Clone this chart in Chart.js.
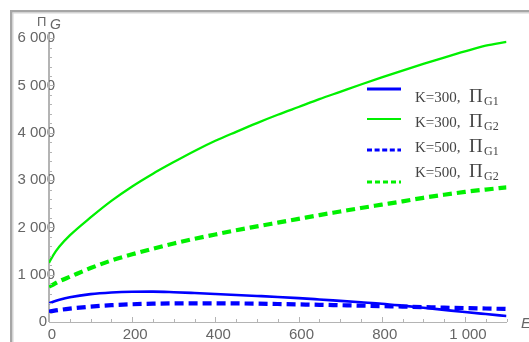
<!DOCTYPE html>
<html>
<head>
<meta charset="utf-8">
<script src="https://cdn.jsdelivr.net/npm/chart.js@4/dist/chart.umd.min.js"></script>
<style>
  html, body { margin: 0; padding: 0; background: #ffffff; overflow: hidden; }
  #wrap { width: 529px; height: 342px; position: relative; }
</style>
</head>
<body>
<div id="wrap"><canvas id="chart" width="529" height="342"></canvas></div>
<script>
// Profit of the two parties (Π_G1, Π_G2) against E, for K = 300 and K = 500
const energy = [0, 10, 25, 50, 100, 150, 200, 250, 300, 350, 400, 450, 500, 550,
                600, 650, 700, 750, 800, 850, 900, 950, 1000, 1050, 1100];

const g1K300 = [395, 428, 468, 522, 590, 625, 640, 642, 630, 612, 592, 571, 551, 530,
                505, 476, 446, 416, 386, 346, 302, 256, 210, 168, 127];
const g2K300 = [1250, 1410, 1595, 1830, 2210, 2560, 2865, 3135, 3380, 3615, 3830, 4020, 4205, 4380,
                4545, 4710, 4865, 5020, 5170, 5315, 5455, 5590, 5720, 5840, 5920];
const g1K500 = [218, 234, 255, 282, 325, 355, 375, 387, 393, 395, 395, 393, 388, 380,
                372, 364, 355, 346, 336, 326, 315, 304, 295, 285, 275];
const g2K500 = [745, 792, 862, 955, 1140, 1300, 1430, 1550, 1660, 1760, 1850, 1940, 2020, 2100,
                2180, 2260, 2335, 2410, 2480, 2550, 2625, 2690, 2750, 2800, 2845];

const xTickValues = [0, 200, 400, 600, 800, 1000];
const yTickValues = [0, 1000, 2000, 3000, 4000, 5000, 6000];

const seriesK   = ['K=300', 'K=300', 'K=500', 'K=500'];
const seriesSub = ['G1', 'G2', 'G1', 'G2'];

const BLUE = '#0000ff';
const GREEN = '#00f000';
const AXIS = '#b4b4b4';
const LABEL = '#666666';
const TICK_FONT = '15px "Liberation Sans", Arial, sans-serif';

function pts(ys) { return energy.map((x, i) => ({ x: x, y: ys[i] })); }
function fmt(v) {
  const s = String(Math.round(v));
  return s.length > 3 ? s.slice(0, s.length - 3) + ' ' + s.slice(-3) : s;
}

const styles = [
  { color: BLUE,  width: 2.6, dash: [] },
  { color: GREEN, width: 2.3, dash: [] },
  { color: BLUE,  width: 4.2, dash: [9, 5] },
  { color: GREEN, width: 4.2, dash: [9, 5] }
];
const seriesData = [g1K300, g2K300, g1K500, g2K500];

// window frame, tick marks, y tick labels that straddle the axis, axis titles and the legend
const decor = {
  id: 'decor',
  beforeDraw(chart) {
    const ctx = chart.ctx;
    ctx.save();
    ctx.fillStyle = '#ffffff';
    ctx.fillRect(0, 0, chart.width, chart.height);
    ctx.fillStyle = '#a6a6a6';
    ctx.fillRect(10, 10, chart.width - 10, 2.5);
    ctx.fillRect(10, 10, 2.5, chart.height - 10);
    ctx.fillStyle = '#d4d4d4';
    ctx.fillRect(12.5, 12.5, chart.width - 12.5, 1);
    ctx.fillRect(12.5, 12.5, 1, chart.height - 12.5);
    ctx.restore();
  },
  beforeDatasetsDraw(chart) {
    const ctx = chart.ctx;
    const ys = chart.scales.y;
    const area = chart.chartArea;
    ctx.save();
    ctx.fillStyle = LABEL;
    ctx.font = TICK_FONT;
    ctx.textAlign = 'right';
    ctx.textBaseline = 'middle';
    ys.ticks.forEach(t => {
      const py = ys.getPixelForValue(t.value);
      const right = t.value === 0 ? area.left - 2 : area.left + 6;
      ctx.fillText(fmt(t.value), right, py);
    });
    // redraw the axis line over the labels
    ctx.strokeStyle = AXIS;
    ctx.lineWidth = 1;
    ctx.beginPath();
    ctx.moveTo(Math.round(area.left) - 0.5, area.top);
    ctx.lineTo(Math.round(area.left) - 0.5, area.bottom);
    ctx.stroke();
    ctx.restore();
  },
  afterDraw(chart) {
    const ctx = chart.ctx;
    const xs = chart.scales.x, ys = chart.scales.y;
    const area = chart.chartArea;
    ctx.save();
    ctx.strokeStyle = AXIS;
    ctx.lineWidth = 1;
    ctx.beginPath();
    for (let v = 0; v <= xs.max + 1e-6; v += 50) {
      const px = Math.round(xs.getPixelForValue(v)) + 0.5;
      const len = (v % 200 === 0) ? 5 : 3;
      ctx.moveTo(px, area.bottom);
      ctx.lineTo(px, area.bottom - len);
    }
    for (let v = 0; v <= ys.max + 1e-6; v += 200) {
      const py = Math.round(ys.getPixelForValue(v)) + 0.5;
      const len = (v % 1000 === 0) ? 5 : 3;
      ctx.moveTo(area.left, py);
      ctx.lineTo(area.left + len, py);
    }
    ctx.stroke();

    // axis titles
    ctx.fillStyle = LABEL;
    ctx.textBaseline = 'alphabetic';
    ctx.textAlign = 'left';
    ctx.font = '13px "Liberation Sans", Arial, sans-serif';
    ctx.fillText('\u03A0', 37, 26);
    ctx.font = 'italic 14px "Liberation Sans", Arial, sans-serif';
    ctx.fillText('G', 50, 29);
    ctx.font = 'italic 15px "Liberation Sans", Arial, sans-serif';
    ctx.fillText('E', 521, 328);

    // legend
    const sampleY = [89, 119, 150, 182];
    const baseY = [101.7, 126.7, 151.7, 176.7];
    const legendDash = [[], [], [5, 2.6], [5, 3]];
    const legendWidth = [3.2, 2.2, 3.2, 3.2];
    for (let i = 0; i < 4; i++) {
      ctx.strokeStyle = styles[i].color;
      ctx.lineWidth = legendWidth[i];
      ctx.setLineDash(legendDash[i]);
      ctx.beginPath();
      ctx.moveTo(367, sampleY[i]);
      ctx.lineTo(401, sampleY[i]);
      ctx.stroke();
      ctx.setLineDash([]);

      ctx.fillStyle = '#444444';
      ctx.font = '15px "Liberation Serif", "Times New Roman", serif';
      ctx.fillText(seriesK[i] + ',', 415, baseY[i]);
      ctx.font = '19px "Liberation Serif", "Times New Roman", serif';
      ctx.fillText('\u03A0', 469, baseY[i]);
      ctx.font = '12px "Liberation Serif", "Times New Roman", serif';
      ctx.fillText(seriesSub[i], 484, baseY[i] + 3.5);
    }
    ctx.restore();
  }
};

new Chart(document.getElementById('chart'), {
  type: 'line',
  data: {
    datasets: seriesData.map((d, i) => ({
      label: seriesK[i] + ', \u03A0' + seriesSub[i],
      data: pts(d),
      borderColor: styles[i].color,
      borderWidth: styles[i].width,
      borderDash: styles[i].dash,
      borderCapStyle: 'butt',
      pointRadius: 0,
      fill: false,
      cubicInterpolationMode: 'monotone'
    }))
  },
  options: {
    responsive: false,
    animation: false,
    devicePixelRatio: 1,
    layout: { padding: { left: 0, right: 22.5, top: 32, bottom: 0 } },
    plugins: { legend: { display: false }, tooltip: { enabled: false } },
    scales: {
      x: {
        type: 'linear',
        min: 0,
        max: 1100,
        afterBuildTicks(scale) { scale.ticks = xTickValues.map(v => ({ value: v })); },
        afterFit(scale) { scale.height = 20; },
        grid: { display: false, drawTicks: false },
        border: { display: true, color: AXIS, width: 1 },
        ticks: {
          color: LABEL,
          font: { family: '"Liberation Sans", Arial, sans-serif', size: 15 },
          padding: 4,
          labelOffset: 3,
          maxRotation: 0,
          autoSkip: false,
          callback: v => fmt(v)
        }
      },
      y: {
        type: 'linear',
        min: 0,
        max: 6130,
        afterBuildTicks(scale) { scale.ticks = yTickValues.map(v => ({ value: v })); },
        afterFit(scale) { scale.width = 49; },
        grid: { display: false, drawTicks: false },
        border: { display: true, color: AXIS, width: 1 },
        ticks: { display: false }
      }
    }
  },
  plugins: [decor]
});
</script>
</body>
</html>
